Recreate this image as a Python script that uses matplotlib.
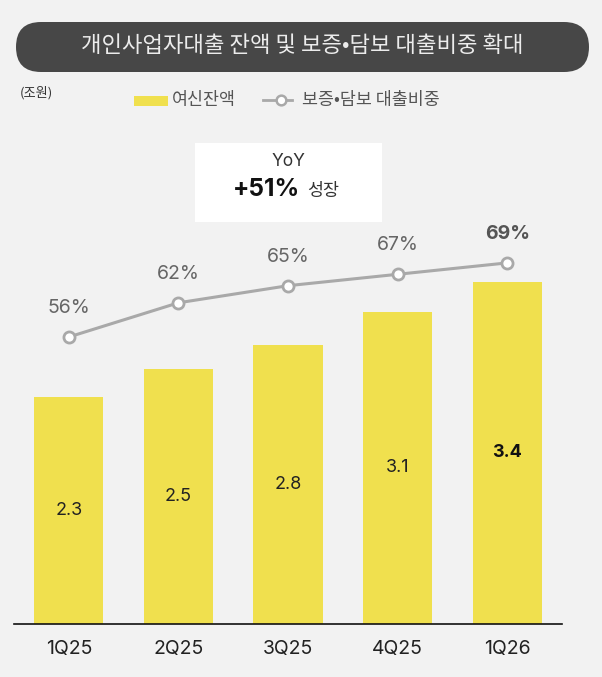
import matplotlib.pyplot as plt
from matplotlib.patches import FancyBboxPatch, Rectangle
from matplotlib.lines import Line2D

# data
quarters = ["1Q25", "2Q25", "3Q25", "4Q25", "1Q26"]
balance = [2.27, 2.55, 2.79, 3.12, 3.42]     # 여신잔액 (조원), bar heights
balance_labels = ["2.3", "2.5", "2.8", "3.1", "3.4"]
secured_share = [56, 62, 65, 67, 69]         # 보증·담보 대출비중 (%)

title = "개인사업자대출 잔액 및 보증•담보 대출비중 확대"
unit_label = "(조원)"
legend_bar = "여신잔액"
legend_line = "보증•담보 대출비중"

BG = "#f2f2f2"
YELLOW = "#f0e04e"
GREY_LINE = "#a9a9a9"
KR = ["Noto Sans CJK KR", "DejaVu Sans"]

plt.rcParams["font.family"] = ["Inter", "Noto Sans CJK KR", "DejaVu Sans"]

W, H = 602, 677
fig = plt.figure(figsize=(W / 100, H / 100), dpi=100, facecolor=BG)

# overlay in pixel coordinates for title / legend / callout
ov = fig.add_axes([0, 0, 1, 1], zorder=0)
ov.set_xlim(0, W)
ov.set_ylim(H, 0)
ov.axis("off")

ov.add_patch(FancyBboxPatch((16, 22), 573, 50,
                            boxstyle="round,pad=0,rounding_size=25",
                            facecolor="#474747", edgecolor="none"))
ov.text(302, 46, title, color="#ececec", fontsize=16, family=KR,
        ha="center", va="center")

ov.text(20, 93, unit_label, fontsize=9.5, color="#333333", family=KR,
        ha="left", va="center")

ov.add_patch(Rectangle((134, 96), 34, 10, facecolor=YELLOW, edgecolor="none"))
ov.text(172, 100, legend_bar, fontsize=12.5, color="#555555", family=KR,
        ha="left", va="center")
ov.add_line(Line2D([263, 292], [100, 100], color=GREY_LINE, lw=2))
ov.plot([281], [100], marker="o", ms=7, mfc="white", mec=GREY_LINE,
        mew=1.8)
ov.text(302, 100, legend_line, fontsize=12.5, color="#555555", family=KR,
        ha="left", va="center")

# YoY callout
ov.add_patch(Rectangle((195, 143), 187, 79, facecolor="white",
                       edgecolor="none"))
ov.text(288, 162, "YoY", fontsize=12.5, color="#333333",
        ha="center", va="center")
ov.text(300, 190, "+51%", fontsize=17.5, fontweight="bold", color="#111111",
        ha="right", va="center")
ov.text(307, 191, "성장", fontsize=12.5, color="#333333", family=KR,
        ha="left", va="center")

# main chart
base_px, top_px = 623.7, 140
ax = fig.add_axes([14 / W, (H - base_px) / H, 548 / W, (base_px - top_px) / H],
                  zorder=1)
ax.set_facecolor("none")
x = list(range(len(quarters)))
ax.bar(x, balance, width=0.63, color=YELLOW, zorder=2)
ax.set_xlim(-0.5, 4.5)
ax.set_ylim(0, (base_px - top_px) / 100)

for i, v in enumerate(balance):
    last = i == len(balance) - 1
    ax.text(i, v / 2, balance_labels[i], ha="center", va="center", fontsize=13,
            color="#111111" if last else "#222222",
            fontweight="bold" if last else "normal", zorder=3)

for s in ["top", "right", "left"]:
    ax.spines[s].set_visible(False)
ax.spines["bottom"].set_color("#111111")
ax.spines["bottom"].set_linewidth(1.2)
ax.set_yticks([])
ax.set_xticks(x)
ax.set_xticklabels(quarters, fontsize=14, color="#222222")
ax.tick_params(axis="x", length=0, pad=12)

# share line on twin axis
ax2 = ax.twinx()
ax2.set_ylim(5.7, 90.56)
ax2.axis("off")
ax2.plot(x, secured_share, color=GREY_LINE, lw=2.2, marker="o", ms=8,
         mfc="white", mec=GREY_LINE, mew=2, zorder=3)
for i, v in enumerate(secured_share):
    last = i == len(secured_share) - 1
    ax2.annotate(f"{v}%", (i, v), xytext=(0, 21), textcoords="offset points",
                 ha="center", va="center", fontsize=14,
                 color="#555555" if last else "#666666",
                 fontweight="bold" if last else "normal")

fig.savefig("out.png", dpi=100, facecolor=BG)
